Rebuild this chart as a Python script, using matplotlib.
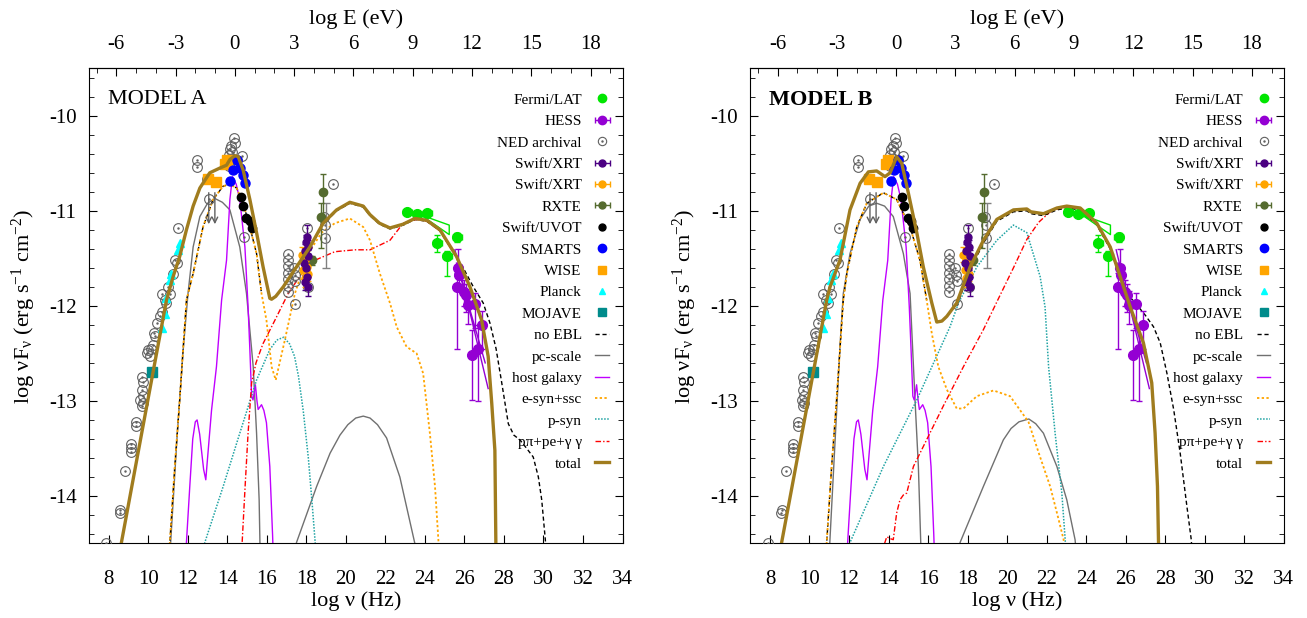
import matplotlib
matplotlib.use('Agg')
import matplotlib.pyplot as plt
import numpy as np
from matplotlib.lines import Line2D
from matplotlib.legend_handler import HandlerTuple
from matplotlib.ticker import MultipleLocator

plt.rcParams['font.family'] = ['Liberation Serif', 'DejaVu Serif']
plt.rcParams['mathtext.fontset'] = 'custom'
plt.rcParams['mathtext.rm'] = 'Liberation Serif'
plt.rcParams['mathtext.it'] = 'Liberation Serif:italic'
plt.rcParams['axes.unicode_minus'] = False

# ---------------- observed data (log nu [Hz], log nuFnu) ----------------
fermi_x = [23.1, 23.61, 24.12, 24.62, 25.13, 25.64]
fermi_y = [-11.01, -11.03, -11.02, -11.34, -11.47, -11.28]
fermi_ylo = [0.03, 0.03, 0.03, 0.09, 0.22, 0.05]
fermi_yhi = [0.03, 0.03, 0.03, 0.09, 0.05, 0.05]
fermi_xerr = [0.23, 0.23, 0.23, 0.23, 0.23, 0.23]
fermi_bow_x = [23.61, 25.23, 25.23, 23.91]
fermi_bow_y = [-11.03, -11.15, -11.25, -11.06]

hess_x = [25.6, 25.69, 25.74, 25.97, 26.08, 26.19, 26.37, 26.53, 26.67, 26.87]
hess_y = [-11.8, -11.6, -11.67, -11.85, -11.89, -11.99, -12.52, -11.98, -12.45, -12.2]
hess_ylo = [0.65, 0.1, 0.1, 0.15, 0.17, 0.2, 0.47, 0.25, 0.55, 0.25]
hess_yhi = [0.15, 0.2, 0.1, 0.12, 0.12, 0.15, 0.27, 0.12, 0.25, 0.15]
hess_xerr = [0.07] * 10
hess_bow_x = [25.52, 27.2, np.nan, 25.6, 27.05]
hess_bow_y = [-11.41, -12.87, np.nan, -11.55, -12.6]

ned_x = [7.88, 8.59, 8.56, 8.81, 9.15, 9.15, 9.15, 9.4, 9.4, 9.66, 9.74, 9.66, 9.71, 9.6,
         9.74, 9.66, 9.91, 9.99, 10.08, 10.16, 10.24, 10.33, 10.28, 10.42, 10.58, 10.67,
         10.92, 10.67, 10.84, 11.09, 11.0, 11.34, 11.43, 11.26, 11.51, 12.44, 12.44, 12.98,
         13.08, 14.34, 14.38, 14.21, 14.13, 14.26, 14.09, 14.29, 14.47, 14.72, 14.29, 14.08,
         14.84, 17.08, 17.08, 17.05, 17.08, 17.08, 17.08, 17.08, 17.38, 17.42, 17.45, 17.45,
         18.04, 18.09, 18.89, 18.94, 18.94, 19.33]
ned_y = [-14.49, -14.15, -14.18, -13.74, -13.45, -13.5, -13.54, -13.22, -13.26, -12.75,
         -12.8, -12.88, -12.95, -12.99, -13.02, -13.05, -12.5, -12.46, -12.53, -12.45,
         -12.41, -12.32, -12.29, -12.18, -12.11, -12.06, -11.97, -11.88, -11.94, -11.87,
         -11.8, -11.52, -11.55, -11.66, -11.18, -10.46, -10.54, -10.66, -10.88, -10.23,
         -10.29, -10.32, -10.35, -10.38, -10.41, -10.45, -10.46, -10.42, -10.5, -10.53,
         -11.28, -11.45, -11.52, -11.58, -11.65, -11.72, -11.79, -11.85, -11.6, -11.67,
         -11.74, -11.98, -11.18, -11.8, -11.06, -11.15, -11.29, -10.72]
ned_err_x = [19.0]
ned_err_y = [-11.29]
ned_err_lo = [0.31]
ned_err_hi = [0.37]
ned_ul_x = [13.06, 13.37]
ned_ul_top = [-10.78, -10.78]
ned_ul_bot = [-11.17, -11.17]

xrt1_x = [17.88, 17.93, 17.98, 18.03, 18.06, 18.1, 18.0, 18.05, 18.1, 17.95]
xrt1_y = [-11.55, -11.42, -11.33, -11.28, -11.38, -11.48, -11.6, -11.7, -11.8, -11.75]
xrt1_err = [0.07, 0.07, 0.08, 0.13, 0.07, 0.07, 0.07, 0.08, 0.1, 0.08]

xrt2_x = [17.76, 17.92, 18.01, 17.92, 18.09, 17.85]
xrt2_y = [-11.46, -11.52, -11.59, -11.71, -11.66, -11.62]
xrt2_err = [0.08, 0.08, 0.08, 0.09, 0.08, 0.1]

rxte_x = [18.85, 18.73, 18.26]
rxte_y = [-10.8, -11.06, -11.52]
rxte_ylo = [0.32, 0.33, 0.05]
rxte_yhi = [0.19, 0.14, 0.05]

uvot_x = [14.67, 14.77, 14.97, 15.14, 15.23]
uvot_y = [-10.85, -10.95, -11.08, -11.11, -11.18]

smarts_x = [14.13, 14.29, 14.47, 14.63, 14.77, 14.89]
smarts_y = [-10.69, -10.57, -10.47, -10.55, -10.62, -10.71]

wise_x = [13.03, 13.42, 13.87, 13.96]
wise_y = [-10.66, -10.7, -10.51, -10.47]

planck_x = [11.59, 11.51, 11.17, 11.09, 10.92, 10.84, 10.67]
planck_y = [-11.34, -11.41, -11.66, -11.73, -11.92, -12.09, -12.23]

mojave_x = [10.19]
mojave_y = [-12.7]

# ---------------- model A curves ----------------
A_total_x = [8.4, 8.64, 9.8, 10.92, 11.26, 11.59, 11.93, 12.27, 12.61, 13.11, 13.62, 13.96,
             14.13, 14.38, 14.55, 14.8, 15.14, 15.48, 15.81, 16.15, 16.24, 16.45, 16.83,
             17.5, 18.18, 18.85, 19.53, 20.2, 20.88, 21.22, 21.7, 22.23, 22.9, 23.49, 24.1,
             24.76, 25.6, 26.28, 26.87, 27.2, 27.38, 27.54, 27.59, 27.62]
A_total_y = [-14.78, -14.49, -13.19, -11.94, -11.69, -11.48, -11.2, -10.95, -10.76, -10.6,
             -10.55, -10.52, -10.46, -10.42, -10.43, -10.57, -10.88, -11.23, -11.59, -11.92,
             -11.93, -11.9, -11.8, -11.59, -11.38, -11.13, -10.99, -10.91, -10.95, -11.04,
             -11.13, -11.18, -11.14, -11.08, -11.1, -11.2, -11.48, -11.8, -12.15, -12.53,
             -13.02, -13.52, -14.5, -15.0]

A_esyn_x = [10.9, 11.09, 11.34, 11.59, 11.93, 12.27, 12.77, 13.28, 13.79, 14.13, 14.47, 14.8,
            15.14, 15.48, 15.73, 15.98, 16.24, 16.45, 16.91, 17.42, 18.09, 18.77, 19.44, 20.2,
            20.88, 21.22, 21.72, 22.23, 22.57, 23.07, 23.58, 23.91, 24.25, 24.51, 24.68, 24.8]
A_esyn_y = [-15.2, -14.49, -13.69, -12.99, -11.94, -11.66, -11.17, -10.88, -10.74, -10.72,
            -10.76, -10.92, -11.17, -11.45, -11.87, -12.15, -12.64, -12.78, -12.36, -11.87,
            -11.45, -11.23, -11.13, -11.08, -11.17, -11.31, -11.66, -11.97, -12.22, -12.43,
            -12.5, -12.71, -13.34, -13.9, -14.46, -15.0]

A_pc_x = [11.1, 11.45, 11.75, 12.01, 12.27, 12.61, 13.0, 13.37, 13.75, 14.13, 14.63, 14.97,
          15.31, 15.48, 15.61, 15.65, 15.8, np.nan, 17.35, 17.5, 18.52, 19.2, 19.7, 20.1,
          20.5, 20.88, 21.22, 21.6, 22.06, 22.73, 23.49, 23.6]
A_pc_y = [-14.6, -13.4, -12.5, -11.87, -11.38, -11.06, -10.92, -10.87, -10.91, -10.99,
          -11.38, -11.87, -12.64, -13.34, -14.04, -14.49, -15.0, np.nan, -15.0, -14.49,
          -13.9, -13.55, -13.36, -13.25, -13.18, -13.16, -13.18, -13.25, -13.39, -13.8,
          -14.5, -14.7]

host_x = [11.9, 11.93, 12.1, 12.25, 12.38, 12.47, 12.6, 12.8, 12.91, 13.0, 13.2, 13.45, 13.71,
          13.96, 14.13, 14.26, 14.45, 14.63, 14.89, 15.05, 15.14, 15.23, 15.3, 15.42, 15.5,
          15.56, 15.73, 15.85, 15.98, 16.15, 16.29, 16.32]
host_y = [-14.7, -14.49, -13.9, -13.4, -13.22, -13.2, -13.35, -13.72, -13.83, -13.6, -13.1,
          -12.64, -11.94, -11.52, -10.88, -10.64, -10.72, -10.88, -11.38, -12.01, -12.46,
          -12.95, -12.99, -12.83, -13.0, -13.09, -13.04, -13.1, -13.23, -13.69, -14.41, -14.6]

A_psyn_x = [12.8, 12.86, 13.79, 14.63, 15.48, 16.15, 16.5, 16.85, 17.15, 17.4, 17.6, 17.84,
            18.1, 18.3, 18.45, 18.5]
A_psyn_y = [-14.6, -14.49, -13.9, -13.34, -12.78, -12.46, -12.36, -12.33, -12.4, -12.53,
            -12.74, -13.1, -13.6, -14.1, -14.5, -14.7]

A_ppi_x = [14.7, 14.75, 14.9, 15.05, 15.23, 15.45, 15.8, 16.41, 17.08, 17.76, 18.43, 19.44,
           20.46, 21.22, 22.23, 22.9, 23.58, 24.1, 24.76, 25.6, 26.28, 26.87, 27.2, 27.38,
           27.54, 27.59, 27.62]
A_ppi_y = [-14.6, -14.49, -13.9, -13.34, -12.81, -12.6, -12.4, -12.15, -11.87, -11.66,
           -11.52, -11.43, -11.41, -11.41, -11.31, -11.13, -11.09, -11.11, -11.21, -11.49,
           -11.81, -12.16, -12.54, -13.03, -13.53, -14.5, -15.0]

A_noebl_x = [10.9, 11.09, 11.34, 11.59, 11.93, 12.27, 12.77, 13.28, 13.79, 14.13, 14.47, 14.8,
             15.14, 15.48, 15.73, np.nan, 17.5, 18.18, 18.85, 19.53, 20.2, 20.88, 21.22, 21.7,
             22.23, 22.9, 23.49, 24.1, 24.76, 25.6, 25.86, 26.45, 26.95, 27.29, 27.6, 27.88,
             28.22, 28.5, 28.81, 29.15, 29.48, 29.74, 29.91, 30.11, 30.2]
A_noebl_y = [-15.2, -14.49, -13.69, -12.99, -11.94, -11.66, -11.17, -10.88, -10.74, -10.72,
             -10.76, -10.92, -11.17, -11.45, -11.87, np.nan, -11.6, -11.39, -11.14, -11.0,
             -10.92, -10.96, -11.05, -11.14, -11.19, -11.15, -11.09, -11.11, -11.21, -11.49,
             -11.57, -11.8, -11.97, -12.18, -12.45, -12.8, -13.24, -13.36, -13.41, -13.5,
             -13.59, -13.8, -14.04, -14.5, -14.8]

# ---------------- model B curves ----------------
B_total_x = [8.35, 8.59, 9.8, 10.87, 11.04, 11.54, 12.05, 12.56, 12.98, 13.4, 13.82, 14.08,
             14.41, 14.67, 15.0, 15.43, 15.76, 16.19, 16.44, 16.7, 16.95, 17.45, 18.13, 18.8,
             19.48, 20.32, 21.0, 21.2, 21.84, 22.52, 23.02, 23.7, 24.54, 25.22, 25.72, 26.23,
             26.9, 27.32, 27.49, 27.61, 27.66, 27.7]
B_total_y = [-14.77, -14.49, -13.14, -11.94, -11.8, -11.52, -10.99, -10.71, -10.59, -10.58,
             -10.64, -10.6, -10.43, -10.5, -10.81, -11.23, -11.59, -11.97, -12.17, -12.16,
             -12.11, -11.97, -11.59, -11.31, -11.09, -10.99, -10.98, -11.01, -11.03, -10.97,
             -10.95, -10.97, -11.13, -11.38, -11.69, -12.01, -12.39, -12.81, -13.34, -13.9,
             -14.46, -15.0]

B_esyn_x = [10.7, 10.87, 11.12, 11.37, 11.71, 11.89, 12.39, 12.9, 13.74, 14.41, 15.09, 15.59,
            15.93, 16.19, 16.52, 16.95, 17.45, 17.79, 18.47, 19.31, 20.15, 21.08, 21.67,
            22.18, 22.61, 22.86, 22.95]
B_esyn_y = [-15.2, -14.49, -13.69, -12.99, -11.94, -11.66, -11.17, -10.92, -10.81, -10.88,
            -11.17, -11.52, -11.94, -12.29, -12.64, -12.88, -13.08, -13.08, -12.95, -12.89,
            -12.95, -13.22, -13.59, -13.9, -14.25, -14.46, -14.7]

B_pc_x = [11.0, 11.3, 11.55, 11.71, 12.05, 12.56, 13.0, 13.4, 13.8, 14.24, 14.75, 15.09,
          15.34, 15.51, 15.63, 15.75, np.nan, 17.45, 17.62, 18.8, 19.81, 20.2, 20.6, 21.1,
          21.45, 21.84, 22.52, 23.02, 23.44, 23.55]
B_pc_y = [-14.6, -13.4, -12.4, -11.87, -11.45, -11.09, -10.95, -10.92, -10.95, -11.06,
          -11.45, -11.87, -12.99, -13.69, -14.49, -15.0, np.nan, -15.0, -14.49, -13.9, -13.41,
          -13.29, -13.22, -13.19, -13.24, -13.34, -13.69, -14.04, -14.46, -14.7]

B_psyn_x = [11.9, 12.05, 13.74, 15.43, 17.11, 17.54, 18.47, 19.48, 20.32, 21.0, 21.67, 21.92,
            22.1, 22.43, 22.77, 22.94, 23.0]
B_psyn_y = [-14.7, -14.49, -13.69, -12.99, -12.22, -11.97, -11.59, -11.31, -11.15, -11.23,
            -11.69, -12.01, -12.64, -13.34, -13.97, -14.46, -14.7]

B_ppi_x = [13.8, 13.91, 14.1, 14.24, 14.41, 14.58, 14.75, 14.92, 15.26, 16.78, 17.79, 18.8,
           19.5, 20.32, 21.0, 21.6, 22.18, 22.68, 23.02, 23.7, 24.54, 25.22, 25.72, 26.23,
           26.9, 27.32, 27.49, 27.61, 27.66, 27.7]
B_ppi_y = [-14.5, -14.43, -14.45, -14.46, -14.18, -14.04, -13.99, -13.97, -13.69, -13.05,
           -12.64, -12.25, -11.95, -11.6, -11.3, -11.12, -11.01, -10.97, -10.96, -10.98,
           -11.14, -11.39, -11.7, -12.02, -12.4, -12.82, -13.35, -13.91, -14.47, -15.0]

B_noebl_x = [10.7, 10.87, 11.12, 11.37, 11.71, 11.89, 12.39, 12.9, 13.74, 14.41, 15.09, 15.59,
             15.93, np.nan, 17.45, 18.13, 18.8, 19.48, 20.32, 21.0, 21.2, 21.84, 22.52, 23.02,
             23.7, 24.54, 25.22, 25.72, 26.1, 26.57, 27.0, 27.41, 27.75, 28.09, 28.43, 28.76,
             29.1, 29.32, 29.4]
B_noebl_y = [-15.2, -14.49, -13.69, -12.99, -11.94, -11.66, -11.17, -10.92, -10.81, -10.88,
             -11.17, -11.52, -11.94, np.nan, -12.0, -11.62, -11.34, -11.11, -11.01, -11.0,
             -11.03, -11.05, -10.99, -10.97, -10.99, -11.15, -11.4, -11.7, -11.88, -11.99,
             -12.1, -12.22, -12.39, -12.71, -13.09, -13.55, -14.11, -14.46, -14.7]

# colours
c_fermi = '#00e600'
c_hess = '#9400d3'
c_ned = '#606060'
c_xrt1 = '#4b0082'
c_xrt2 = '#ffa500'
c_rxte = '#556b2f'
c_smarts = '#0000ff'
c_wise = '#ffa500'
c_planck = '#00ffff'
c_mojave = '#008b8b'
c_pc = '#707070'
c_host = '#c000ff'
c_esyn = '#ffa500'
c_psyn = '#1fa3a3'
c_ppi = '#ff0000'
c_total = '#a07c1e'

ls_noebl = (0, (3, 2))
ls_esyn = (0, (1.3, 1.3))
ls_psyn = (0, (1, 1))
ls_ppi = (0, (4, 1.5, 1, 1.5))


def draw_panel(ax, total, esyn, pc, psyn, ppi, noebl, title, bold):
    # model curves
    ax.plot(*pc, color=c_pc, lw=1.0, zorder=2)
    ax.plot(host_x, host_y, color=c_host, lw=1.0, zorder=2)
    ax.plot(*psyn, color=c_psyn, lw=1.1, ls=ls_psyn, zorder=2)
    ax.plot(*ppi, color=c_ppi, lw=1.0, ls=ls_ppi, zorder=2)
    ax.plot(*noebl, color='black', lw=1.0, ls=ls_noebl, zorder=2)
    ax.plot(*esyn, color=c_esyn, lw=1.3, ls=ls_esyn, zorder=2)

    # data
    ax.plot(ned_x, ned_y, 'o', mfc='none', mec=c_ned, mew=0.8, ms=7, zorder=3)
    ax.plot(ned_x, ned_y, '.', color=c_ned, ms=1.5, zorder=3)
    ax.errorbar(ned_err_x, ned_err_y, yerr=[ned_err_lo, ned_err_hi], fmt='none',
                ecolor='#808080', elinewidth=1, capsize=3, zorder=3)
    for ux, ut, ub in zip(ned_ul_x, ned_ul_top, ned_ul_bot):
        ax.annotate('', xy=(ux, ub), xytext=(ux, ut),
                    arrowprops=dict(arrowstyle='->', color=c_ned, lw=1.0), zorder=3)
    ax.plot(planck_x, planck_y, '^', color=c_planck, ms=5.5, zorder=4)
    ax.plot(mojave_x, mojave_y, 's', color=c_mojave, ms=6.5, zorder=4)
    ax.plot(wise_x, wise_y, 's', color=c_wise, ms=7, zorder=4)
    ax.plot(smarts_x, smarts_y, 'o', color=c_smarts, ms=6.5, zorder=4)
    ax.plot(uvot_x, uvot_y, 'o', color='black', ms=6, zorder=4)
    ax.errorbar(rxte_x, rxte_y, xerr=0.1, yerr=[rxte_ylo, rxte_yhi], fmt='o', color=c_rxte,
                ms=6, elinewidth=1, capsize=2.5, zorder=4)
    ax.errorbar(xrt2_x, xrt2_y, xerr=0.08, yerr=xrt2_err, fmt='o', color=c_xrt2,
                ms=5, elinewidth=1, capsize=2, zorder=4)
    ax.errorbar(xrt1_x, xrt1_y, xerr=0.08, yerr=xrt1_err, fmt='o', color=c_xrt1,
                ms=5, elinewidth=1, capsize=2, zorder=4)
    ax.plot(fermi_bow_x, fermi_bow_y, color=c_fermi, lw=1.0, zorder=4)
    ax.errorbar(fermi_x, fermi_y, xerr=fermi_xerr, yerr=[fermi_ylo, fermi_yhi], fmt='o',
                color=c_fermi, ms=7, elinewidth=1, capsize=2.5, zorder=4)
    ax.plot(hess_bow_x, hess_bow_y, color=c_hess, lw=1.0, zorder=4)
    ax.errorbar(hess_x, hess_y, xerr=hess_xerr, yerr=[hess_ylo, hess_yhi], fmt='o',
                color=c_hess, ms=7, elinewidth=1, capsize=2.5, zorder=4)

    ax.plot(*total, color=c_total, lw=2.4, zorder=5)

    ax.set_xlim(7, 34)
    ax.set_ylim(-14.5, -9.5)
    ax.set_xticks(np.arange(8, 35, 2))
    ax.set_yticks([-14, -13, -12, -11, -10])
    ax.yaxis.set_minor_locator(MultipleLocator(0.2))
    ax.tick_params(which='both', direction='in', top=False, right=True, labelsize=15)
    ax.tick_params(which='major', length=6)
    ax.tick_params(which='minor', length=3.5)
    ax.tick_params(axis='x', pad=19)
    ax.tick_params(axis='y', pad=9)
    ax.set_xlabel('log ν (Hz)', fontsize=16, labelpad=2)
    ax.set_ylabel('log νF$_{\\mathrm{ν}}$ (erg s$^{\\mathrm{-1}}$ cm$^{\\mathrm{-2}}$)',
                  fontsize=16, labelpad=8)

    sec = ax.secondary_xaxis('top', functions=(lambda x: x - 14.383, lambda e: e + 14.383))
    sec.set_xticks(np.arange(-6, 19, 3))
    sec.xaxis.set_minor_locator(MultipleLocator(1))
    sec.tick_params(which='both', direction='in', labelsize=15, pad=10)
    sec.tick_params(which='major', length=6)
    sec.tick_params(which='minor', length=3.5)
    sec.set_xlabel('log E (eV)', fontsize=16, labelpad=8)

    ax.text(0.035, 0.955, title, transform=ax.transAxes, fontsize=16, va='top', ha='left',
            fontweight='bold' if bold else 'normal')

    # legend proxies
    nan = [np.nan]
    h = []
    h.append(Line2D([], [], ls='none', marker='o', color=c_fermi, ms=6))
    h.append(ax.errorbar(nan, nan, xerr=[0.1], fmt='o', color=c_hess, ms=6, capsize=2.5,
                         elinewidth=1))
    h.append((Line2D([], [], ls='none', marker='o', mfc='none', mec=c_ned, ms=6, mew=0.8),
              Line2D([], [], ls='none', marker='.', color=c_ned, ms=1.5)))
    h.append(ax.errorbar(nan, nan, xerr=[0.1], fmt='o', color=c_xrt1, ms=5, capsize=2.5,
                         elinewidth=1))
    h.append(ax.errorbar(nan, nan, xerr=[0.1], fmt='o', color=c_xrt2, ms=5, capsize=2.5,
                         elinewidth=1))
    h.append(ax.errorbar(nan, nan, xerr=[0.1], fmt='o', color=c_rxte, ms=5, capsize=2.5,
                         elinewidth=1))
    h.append(Line2D([], [], ls='none', marker='o', color='black', ms=5))
    h.append(Line2D([], [], ls='none', marker='o', color=c_smarts, ms=6))
    h.append(Line2D([], [], ls='none', marker='s', color=c_wise, ms=6))
    h.append(Line2D([], [], ls='none', marker='^', color=c_planck, ms=5))
    h.append(Line2D([], [], ls='none', marker='s', color=c_mojave, ms=6))
    h.append(Line2D([], [], color='black', lw=1.0, ls=ls_noebl))
    h.append(Line2D([], [], color=c_pc, lw=1.0))
    h.append(Line2D([], [], color=c_host, lw=1.0))
    h.append(Line2D([], [], color=c_esyn, lw=1.3, ls=ls_esyn))
    h.append(Line2D([], [], color=c_psyn, lw=1.1, ls=ls_psyn))
    h.append(Line2D([], [], color=c_ppi, lw=1.0, ls=ls_ppi))
    h.append(Line2D([], [], color=c_total, lw=2.4))
    labels = ['Fermi/LAT', 'HESS', 'NED archival', 'Swift/XRT', 'Swift/XRT', 'RXTE',
              'Swift/UVOT', 'SMARTS', 'WISE', 'Planck', 'MOJAVE', 'no EBL', 'pc-scale',
              'host galaxy', 'e-syn+ssc', 'p-syn', 'pπ+pe+γ γ', 'total']
    ax.legend(h, labels, loc='upper right', bbox_to_anchor=(0.975, 0.948), frameon=False,
              markerfirst=False, fontsize=11, labelspacing=0.505, handlelength=0.9,
              handletextpad=0.9, borderpad=0, borderaxespad=0,
              handler_map={tuple: HandlerTuple(ndivide=1)})


fig = plt.figure(figsize=(13.07, 6.18), dpi=100)
ax1 = fig.add_axes([0.0681, 0.1206, 0.4082, 0.7689])
ax2 = fig.add_axes([0.5740, 0.1206, 0.4082, 0.7689])

draw_panel(ax1, (A_total_x, A_total_y), (A_esyn_x, A_esyn_y), (A_pc_x, A_pc_y),
           (A_psyn_x, A_psyn_y), (A_ppi_x, A_ppi_y), (A_noebl_x, A_noebl_y), 'MODEL A', False)
draw_panel(ax2, (B_total_x, B_total_y), (B_esyn_x, B_esyn_y), (B_pc_x, B_pc_y),
           (B_psyn_x, B_psyn_y), (B_ppi_x, B_ppi_y), (B_noebl_x, B_noebl_y), 'MODEL B', True)

fig.savefig('out.png', dpi=100)
